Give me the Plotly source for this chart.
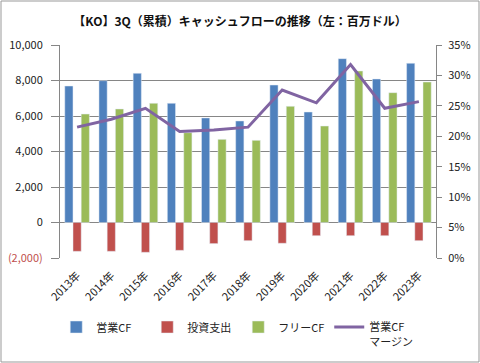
import plotly.graph_objects as go

years = ["2013年", "2014年", "2015年", "2016年", "2017年", "2018年",
         "2019年", "2020年", "2021年", "2022年", "2023年"]
op_cf = [7690, 7990, 8405, 6715, 5890, 5720, 7745, 6225, 9230, 8085, 8970]
inv = [-1625, -1625, -1680, -1570, -1190, -1025, -1170, -745, -745, -745, -1025]
free_cf = [6110, 6395, 6715, 5060, 4685, 4630, 6545, 5435, 8535, 7315, 7915]
margin = [0.215, 0.228, 0.246, 0.208, 0.2105, 0.215, 0.276, 0.255, 0.318, 0.246, 0.257]

left_ticks = [-2000, 0, 2000, 4000, 6000, 8000, 10000]
left_text = ['<span style="color:#C0504D">(2,000)</span>', "0", "2,000", "4,000",
             "6,000", "8,000", "10,000"]

FONT = "Noto Sans CJK JP"

fig = go.Figure()
fig.add_trace(go.Bar(x=years, y=op_cf, name="営業CF", marker_color="#4F81BD"))
fig.add_trace(go.Bar(x=years, y=inv, name="投資支出", marker_color="#C0504D"))
fig.add_trace(go.Bar(x=years, y=free_cf, name="フリーCF", marker_color="#9BBB59"))
fig.add_trace(go.Scatter(x=years, y=margin, name="営業CF<br>マージン", yaxis="y2",
                         mode="lines", line=dict(color="#8064A2", width=3)))

L, R, T, B = 60, 44, 45, 105
W, H = 480, 363
pw, ph = W - L - R, H - T - B

fig.update_layout(
    width=W, height=H,
    margin=dict(l=L, r=R, t=T, b=B, autoexpand=False),
    paper_bgcolor="white", plot_bgcolor="white",
    font=dict(family=FONT, size=11, color="#222"),
    title=dict(text="<b>【KO】3Q（累積）キャッシュフローの推移（左：百万ドル）</b>",
               x=0.5, xanchor="center", y=1 - 22 / H, yanchor="middle",
               font=dict(size=12, family=FONT, color="#111")),
    barmode="group", bargap=0.28, bargroupgap=0,
    showlegend=True,
    legend=dict(orientation="h", x=-0.01, xanchor="left",
                y=-0.26, yanchor="top", font=dict(size=11),
                traceorder="normal", valign="top",
                entrywidth=46, entrywidthmode="pixels"),
    xaxis=dict(showgrid=False, tickangle=-45, ticks="", showline=False,
               ticklabelstandoff=8, tickfont=dict(size=11), automargin=False),
    yaxis=dict(range=[-2000, 10000], tickvals=left_ticks, ticktext=left_text,
               showgrid=True, gridcolor="#868686", gridwidth=1,
               showline=True, linecolor="#868686", linewidth=1,
               ticks="outside", ticklen=8, tickcolor="#868686",
               ticklabelstandoff=6, automargin=False,
               zeroline=False, tickfont=dict(size=11)),
    yaxis2=dict(range=[0, 0.35], dtick=0.05, tickformat=".0%", overlaying="y",
                side="right", showgrid=False, showline=True, linecolor="#868686",
                linewidth=1, ticks="outside", ticklen=5, tickcolor="#868686",
                ticklabelstandoff=4, automargin=False,
                zeroline=False, tickfont=dict(size=11)),
)

fig.add_shape(type="rect", xref="paper", yref="paper",
              x0=-(L - 1) / pw, x1=1 + (R - 1) / pw,
              y0=-(B - 1) / ph, y1=1 + (T - 1) / ph,
              line=dict(color="#999", width=1), layer="below")

fig.write_html("out.html", config={"displayModeBar": False},
               post_script="document.body.style.margin='0';")
